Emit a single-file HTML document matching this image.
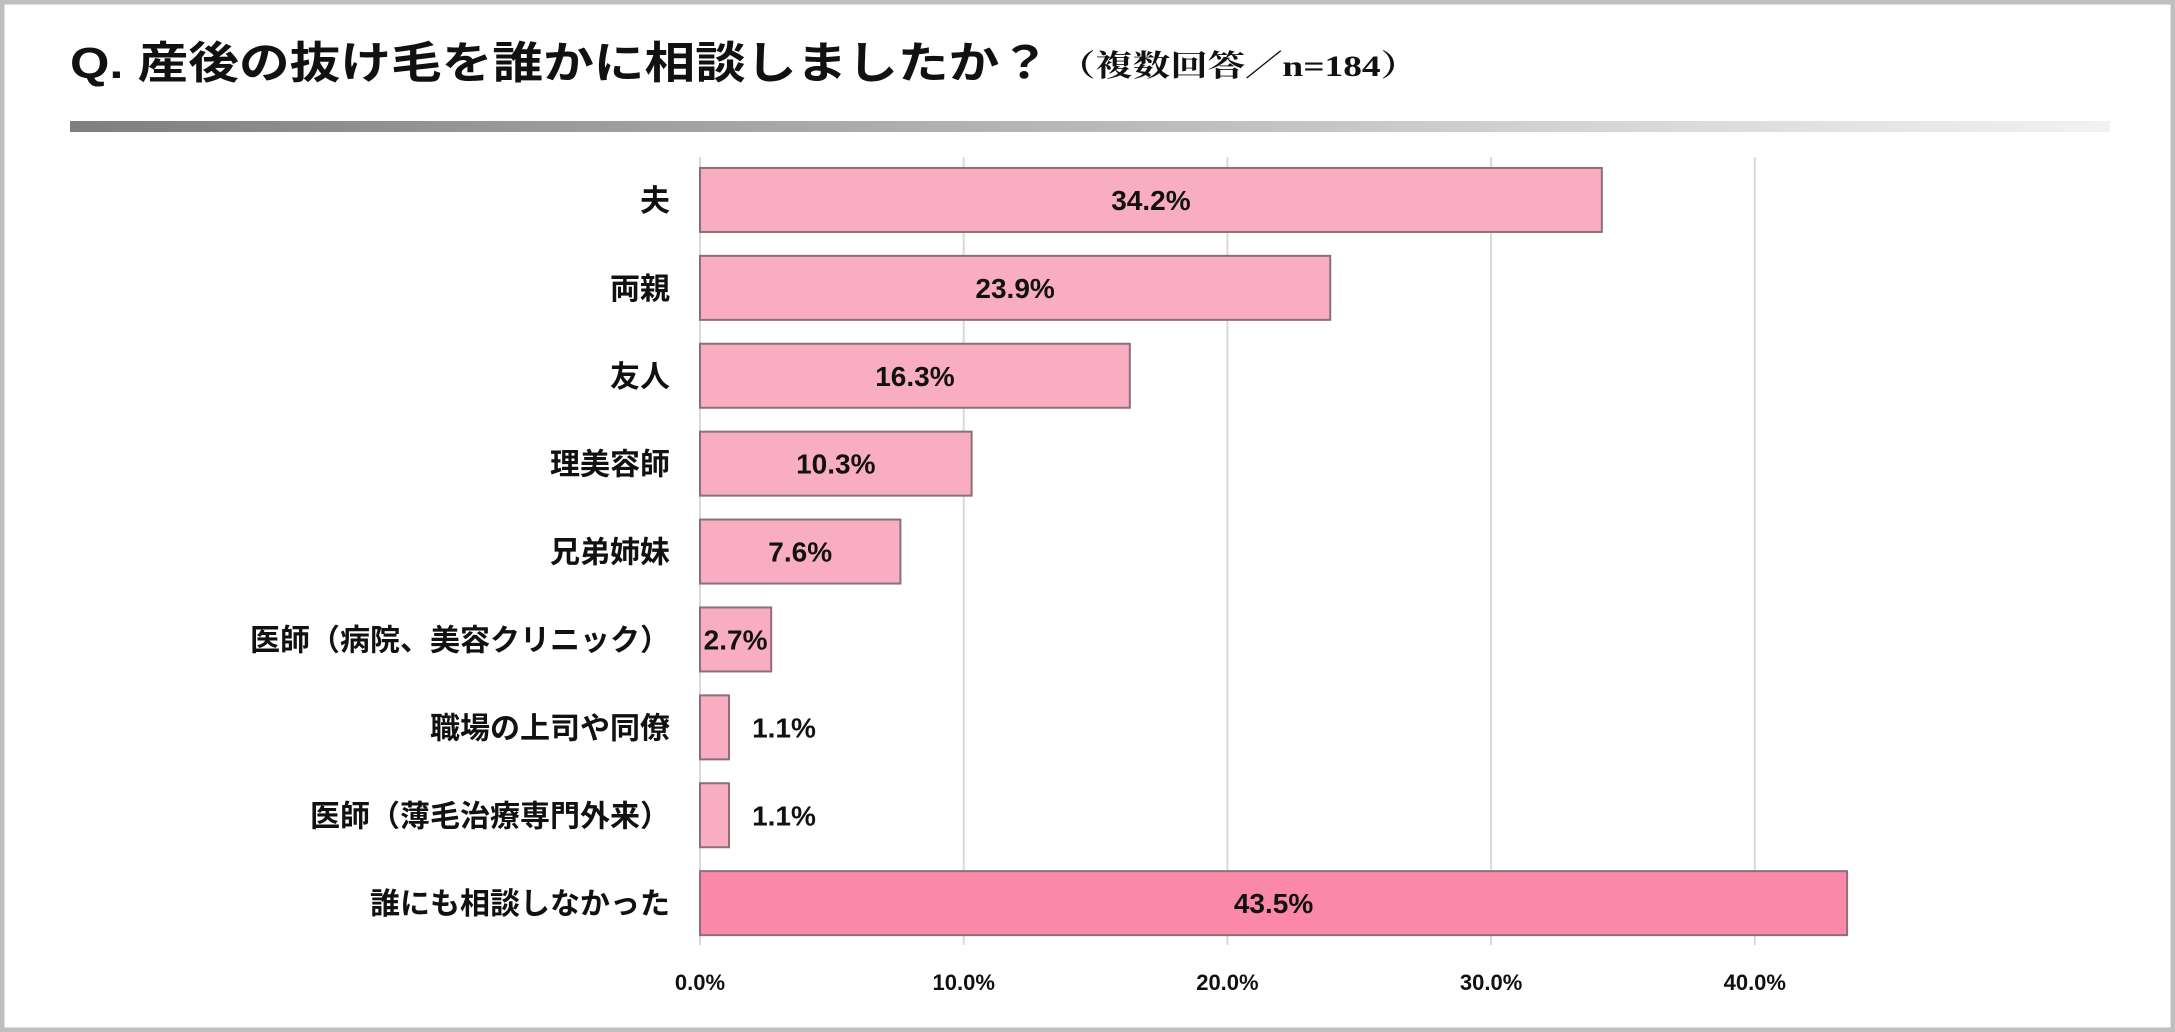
<!DOCTYPE html>
<html><head><meta charset="utf-8"><style>
html,body{margin:0;padding:0;background:#fff}
svg{display:block}
</style></head><body>
<svg id="chart" width="2175" height="1032" viewBox="0 0 2175 1032" xmlns="http://www.w3.org/2000/svg">
<defs>
<linearGradient id="g" x1="0" x2="1" y1="0" y2="0">
<stop offset="0" stop-color="#7f7f7f"/><stop offset="1" stop-color="#f2f2f2"/>
</linearGradient>
</defs>
<rect x="2" y="2" width="2171" height="1028" fill="#fff" stroke="#bfbfbf" stroke-width="5"/>
<text x="70" y="78" font-family="Liberation Sans, Noto Sans CJK JP, sans-serif" font-weight="bold" font-size="44" textLength="980" lengthAdjust="spacingAndGlyphs" fill="#111">Q. 産後の抜け毛を誰かに相談しましたか？</text>
<text x="1058" y="76" font-family="Liberation Serif, Noto Serif CJK SC, serif" font-weight="bold" font-size="30" textLength="360" lengthAdjust="spacingAndGlyphs" fill="#111">（複数回答／n=184）</text>
<rect x="70" y="121" width="2040" height="11" fill="url(#g)"/>
<g id="grid"></g>
<g id="bars"></g>
<g id="labels"></g>
</svg>
<script>
const categories = ["夫","両親","友人","理美容師","兄弟姉妹","医師（病院、美容クリニック）","職場の上司や同僚","医師（薄毛治療専門外来）","誰にも相談しなかった"];
const values = [34.2,23.9,16.3,10.3,7.6,2.7,1.1,1.1,43.5];
const ticks = [0,10,20,30,40];
const tickLabels = ["0.0%","10.0%","20.0%","30.0%","40.0%"];

const NS="http://www.w3.org/2000/svg";
const x0=700, pxPer=26.37, rowTop=156, rowH=87.9, barH=64;
const xs=v=>x0+v*pxPer;
const yc=i=>rowTop+rowH*(i+0.5);
function mk(tag,attrs,parent){const e=document.createElementNS(NS,tag);for(const k in attrs)e.setAttribute(k,attrs[k]);parent.appendChild(e);return e;}
const grid=document.getElementById('grid'), bars=document.getElementById('bars'), labels=document.getElementById('labels');
const FONT="Liberation Sans, Noto Sans CJK JP, sans-serif";
ticks.forEach((t,i)=>{
  const l=mk('line',{x1:xs(t),x2:xs(t),y1:157,y2:945,stroke:'#d9d9d9','stroke-width':2},grid);
  
  
  const tx=mk('text',{x:xs(t),y:990,'text-anchor':'middle','font-family':FONT,'font-weight':'bold','font-size':22,fill:'#111'},grid);
  tx.textContent=tickLabels[i];
  
  
});
categories.forEach((c,i)=>{
  const v=values[i], y=yc(i);
  const last=i===categories.length-1;
  const r=mk('rect',{x:x0,y:y-barH/2,width:xs(v)-x0,height:barH,fill:last?'#fb88a6':'#f9adc3',stroke:'#8a7078','stroke-width':2},bars);
  
  
  const cl=mk('text',{x:670,y:y+11,'text-anchor':'end','font-family':FONT,'font-weight':'bold','font-size':30,fill:'#111'},labels);
  cl.textContent=c;
  
  
  const inside=v>=2;
  const vx=inside?(x0+xs(v))/2:xs(v)+55;
  const vl=mk('text',{x:vx,y:y+10,'text-anchor':'middle','font-family':FONT,'font-weight':'bold','font-size':28,fill:'#111'},labels);
  vl.textContent=v.toFixed(1)+'%';
  
  
});
</script>
</body></html>
